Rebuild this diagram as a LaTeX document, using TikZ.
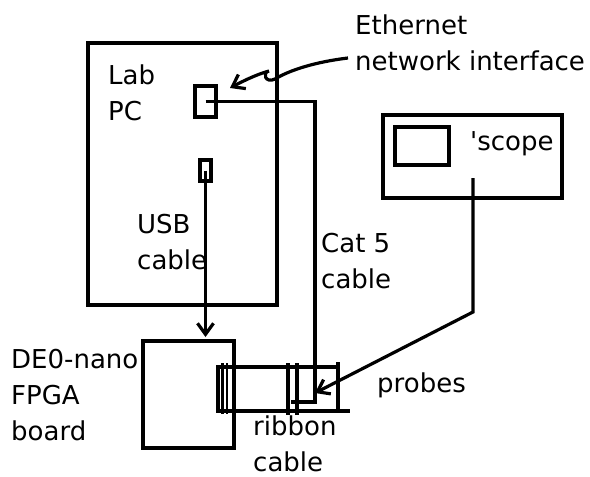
\documentclass[tikz,border=0pt]{standalone}
\usepackage{fontspec}
\setmainfont{DejaVu Sans}
\usetikzlibrary{arrows.meta}
\tikzset{
  box/.style={draw, line width=3.2pt, outer sep=0pt, inner sep=0pt},
  cab/.style={line width=3.2pt},
  tip/.style={-{Straight Barb[length=11pt,width=16pt,line width=3.2pt]}},
  lbl/.style={anchor=base west, align=left, inner sep=0pt, font=\fontsize{26}{36}\selectfont},
}
\begin{document}
\begin{tikzpicture}[x=1pt,y=-1pt]
  \useasboundingbox (0,0) rectangle (590,477);
  % boxes
  \node[box, minimum width=189pt, minimum height=262pt] (pc) at (182.5,174) {};
  \node[box, minimum width=21pt, minimum height=31pt] (eth) at (205.5,101.5) {};
  \node[box, minimum width=11pt, minimum height=21pt] (usb) at (205.5,170.5) {};
  \node[box, minimum width=91pt, minimum height=107pt] (fpga) at (188.5,394.5) {};
  \node[box, minimum width=179pt, minimum height=83pt] (scope) at (472.5,156.5) {};
  \node[box, minimum width=54pt, minimum height=38pt] (scr) at (422,146) {};
  \node[box, minimum width=120pt, minimum height=44pt] (rib) at (278,389) {};
  % ribbon connector
  \draw[cab] (rib.south east) -- ++(12,0);
  \draw[cab] (rib.north east) -- ++(0,-5);
  \foreach \x in {222.5,227} \draw[line width=2.4pt] (\x,363) -- (\x,414);
  \foreach \x in {288,297} \draw[cab] (\x,363) -- (\x,415);
  % cables
  \coordinate (catdn) at (315,402);
  \coordinate (catend) at (291,402);
  \draw[cab] (eth.center) -- (eth.center -| catdn) -- (catdn) -- (catend);
  \coordinate (usbin) at (205.5,337);
  \draw[cab, tip] (usb.center) -- (usbin);
  \coordinate (prb) at (473,178);
  \coordinate (prbk) at (473,312);
  \coordinate (prbtip) at (315,393);
  \draw[cab, tip] (prb) -- (prbk) -- (prbtip);
  % labels (base = last line)
  \node[lbl] (labpc) at (108,120) {Lab\\PC};
  \node[lbl] (usbtxt) at (137,269) {USB\\cable};
  \node[lbl] (de0) at (11,440) {DE0-nano\\FPGA\\board};
  \node[lbl] (ethtxt) at (355,70) {Ethernet\\network interface};
  \node[lbl] (scptxt) at (470,150) {\textquotesingle scope};
  \node[lbl] (cattxt) at (321,288) {Cat 5\\cable};
  \node[lbl] (prbtxt) at (377,392) {probes};
  \node[lbl] (ribtxt) at (253,471) {ribbon\\cable};
  % pointer to the network port
  \coordinate (ethfrom) at (348,58);
  \coordinate (ethto) at (230,88);
  \draw[cab, tip] (ethfrom) .. controls (315,62) and (290,70) .. (275,79)
    .. controls (265,84) and (262,72) .. (269,71)
    .. controls (258,74) and (245,80) .. (ethto);
\end{tikzpicture}
\end{document}
